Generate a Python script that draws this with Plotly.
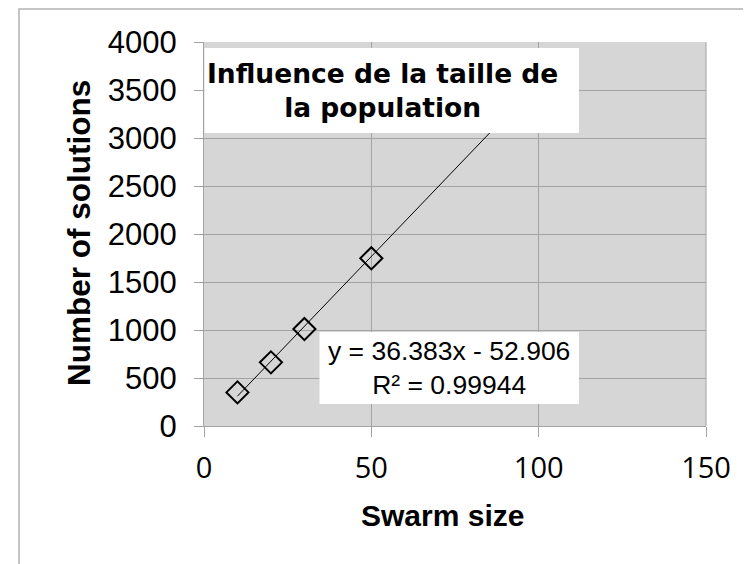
"""Swarm size vs number of solutions, with linear trendline."""
import numpy as np
import plotly.graph_objects as go

# data
swarm_size = [10, 20, 30, 50]
n_solutions = [350, 663, 1010, 1747]

# trendline as printed on the chart (forecast forward to x=100)
slope = 36.383
intercept = -52.906
r_squared = 0.99944
trend_x = [10, 100]

x_ticks = [0, 50, 100, 150]
y_ticks = [0, 500, 1000, 1500, 2000, 2500, 3000, 3500, 4000]

W, H = 751, 564
PAGE = 8  # body margin of the html page
L, R, T, B = 204, 706, 42, 426  # plot area in page pixels


def px(x):
    return (x - L) / (R - L)


def py(y):
    return (B - y) / (B - T)


fig = go.Figure()

trend_y = slope * np.array(trend_x, dtype=float) + intercept
fig.add_trace(go.Scatter(
    x=trend_x, y=trend_y, mode="lines",
    line=dict(color="black", width=1), hoverinfo="skip",
))
fig.add_trace(go.Scatter(
    x=swarm_size, y=n_solutions, mode="markers",
    marker=dict(symbol="diamond-open", size=17, color="black",
                line=dict(color="black", width=2)),
))

grid = "#a3a3a3"
arial = "Liberation Sans, Arial"

fig.update_layout(
    width=W, height=H,
    margin=dict(l=L - PAGE, r=W - R + PAGE, t=T - PAGE, b=H - B + PAGE),
    paper_bgcolor="white",
    plot_bgcolor="#d6d6d6",
    showlegend=False,
    xaxis=dict(
        range=[0, 150], tickvals=x_ticks, showgrid=True, gridcolor=grid,
        gridwidth=1, zeroline=False, showline=True, linecolor=grid,
        ticks="outside", ticklen=10, tickcolor=grid,
        tickfont=dict(family="Open Sans, Liberation Sans", size=29, color="black"),
        ticklabelstandoff=6,
    ),
    yaxis=dict(
        range=[0, 4000], tickvals=y_ticks, showgrid=True, gridcolor=grid,
        gridwidth=1, zeroline=False, showline=True, linecolor=grid,
        ticks="outside", ticklen=9, tickcolor=grid,
        tickfont=dict(family=arial, size=31, color="black"),
        ticklabelstandoff=11,
    ),
    shapes=[
        # outer chart frame
        dict(type="rect", xref="paper", yref="paper", layer="below",
             x0=px(19), x1=px(770), y0=py(580), y1=py(9),
             line=dict(color="#b3b3b3", width=1.5), fillcolor="rgba(0,0,0,0)"),
        # right plot border
        dict(type="line", xref="paper", yref="paper", x0=1, x1=1, y0=0, y1=1,
             line=dict(color=grid, width=1)),
        # title box
        dict(type="rect", xref="paper", yref="paper", layer="above",
             x0=px(204.5), x1=px(579), y0=py(133), y1=py(48),
             fillcolor="white", line=dict(width=0)),
        # equation box
        dict(type="rect", xref="paper", yref="paper", layer="above",
             x0=px(319.5), x1=px(579), y0=py(404), y1=py(332),
             fillcolor="white", line=dict(width=0)),
    ],
    annotations=[
        dict(text="Influence de la taille de<br>la population",
             xref="paper", yref="paper", x=px(382), y=py(90.5),
             showarrow=False, xanchor="center", yanchor="middle",
             font=dict(family="DejaVu Sans", size=26.5, color="black", weight="bold")),
        dict(text=f"y = {slope}x - {abs(intercept)}<br>R² = {r_squared}",
             xref="paper", yref="paper", x=px(449), y=py(368),
             showarrow=False, xanchor="center", yanchor="middle",
             font=dict(family=arial, size=26.5, color="black")),
        dict(text="<b>Swarm size</b>", xref="paper", yref="paper",
             x=px(442), y=py(515), showarrow=False,
             xanchor="center", yanchor="middle",
             font=dict(family=arial, size=30, color="black")),
        dict(text="<b>Number of solutions</b>", xref="paper", yref="paper",
             x=px(79), y=py(233), showarrow=False, textangle=-90,
             xanchor="center", yanchor="middle",
             font=dict(family=arial, size=31.5, color="black")),
    ],
)

fig.write_html("out.html")
